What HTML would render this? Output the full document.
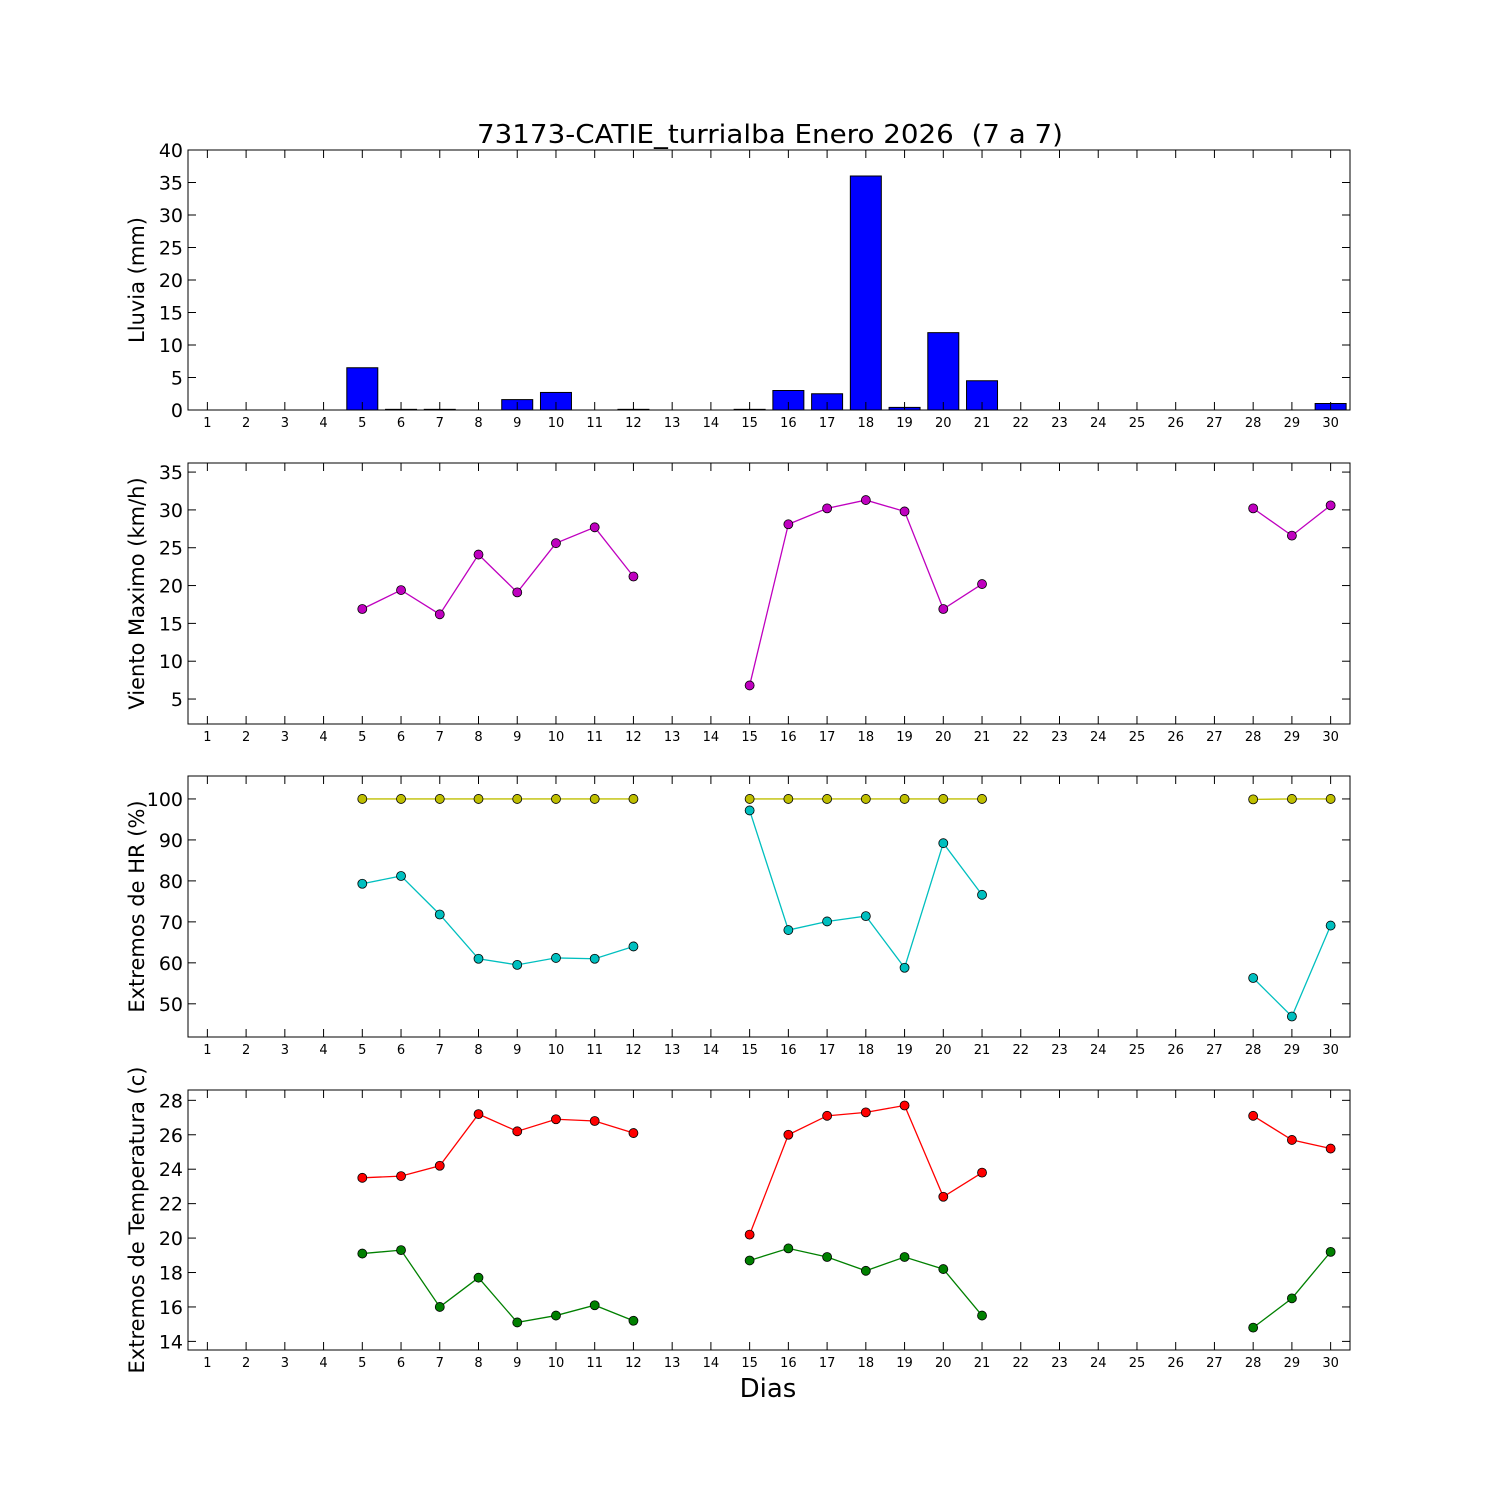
<!DOCTYPE html>
<html><head><meta charset="utf-8"><style>
html,body{margin:0;padding:0;background:#fff}
svg text{font-family:"DejaVu Sans","Liberation Sans",sans-serif;fill:#000}
</style></head><body>
<svg id="chart" width="1500" height="1500" xmlns="http://www.w3.org/2000/svg">
<rect width="1500" height="1500" fill="#fff"/>
<text x="770" y="143" font-size="26" text-anchor="middle" textLength="586" lengthAdjust="spacingAndGlyphs" xml:space="preserve">73173-CATIE_turrialba Enero 2026  (7 a 7)</text>
<text x="768" y="1397" font-size="26" text-anchor="middle">Dias</text>
</svg>
<script>
const days=[];for(let d=1;d<=30;d++)days.push(d);
const rain=[0,0,0,0,6.5,0.1,0.1,0,1.6,2.7,0,0.1,0,0,0.1,3.0,2.5,36,0.4,11.9,4.5,0,0,0,0,0,0,0,0,1.0];
const N=null;
const wind=[N,N,N,N,16.9,19.4,16.2,24.1,19.1,25.6,27.7,21.2,N,N,6.8,28.1,30.2,31.3,29.8,16.9,20.2,N,N,N,N,N,N,30.2,26.6,30.6];
const hrMax=[N,N,N,N,100,100,100,100,100,100,100,100,N,N,100,100,100,100,100,100,100,N,N,N,N,N,N,99.9,100,100];
const hrMin=[N,N,N,N,79.3,81.2,71.8,61.0,59.5,61.2,61.0,64.0,N,N,97.2,68.0,70.1,71.4,58.8,89.2,76.6,N,N,N,N,N,N,56.3,46.9,69.1];
const tMax=[N,N,N,N,23.5,23.6,24.2,27.2,26.2,26.9,26.8,26.1,N,N,20.2,26.0,27.1,27.3,27.7,22.4,23.8,N,N,N,N,N,N,27.1,25.7,25.2];
const tMin=[N,N,N,N,19.1,19.3,16.0,17.7,15.1,15.5,16.1,15.2,N,N,18.7,19.4,18.9,18.1,18.9,18.2,15.5,N,N,N,N,N,N,14.8,16.5,19.2];
const rainTicks=[0,5,10,15,20,25,30,35,40];
const windTicks=[5,10,15,20,25,30,35];
const hrTicks=[50,60,70,80,90,100];
const tTicks=[14,16,18,20,22,24,26,28];

const svg=document.getElementById('chart');const NS='http://www.w3.org/2000/svg';
function el(t,a,p){const e=document.createElementNS(NS,t);for(const k in a)e.setAttribute(k,a[k]);(p||svg).appendChild(e);return e;}
const L=188,R=1350;
const xs=d=>L+(d-0.5)*(R-L)/30;
const panels=[
 {name:'rain',top:150,bot:410,v0:0,v1:40,ticks:rainTicks,label:'Lluvia (mm)'},
 {name:'wind',top:463,bot:724,v0:1.7,v1:36.2,ticks:windTicks,label:'Viento Maximo (km/h)'},
 {name:'hr',top:776,bot:1037,v0:41.9,v1:105.6,ticks:hrTicks,label:'Extremos de HR (%)'},
 {name:'temp',top:1090,bot:1350,v0:13.5,v1:28.6,ticks:tTicks,label:'Extremos de Temperatura (c)'}
];
panels.forEach(p=>{
 p.ys=v=>p.bot-(v-p.v0)/(p.v1-p.v0)*(p.bot-p.top);
 const g=el('g',{});
 
 
 p.g=g;
});
function axes(p){
 const g=p.g;
 p.ticks.forEach(t=>{const y=p.ys(t);
  el('line',{x1:L,x2:L+8,y1:y,y2:y,stroke:'#000'},g);
  el('line',{x1:R,x2:R-8,y1:y,y2:y,stroke:'#000'},g);
  const tx=el('text',{x:L-5,y:y+7,'font-size':19,'text-anchor':'end'},g);tx.textContent=t;
  
  
 });
 days.forEach(d=>{const x=xs(d);
  el('line',{x1:x,x2:x,y1:p.bot,y2:p.bot-8,stroke:'#000'},g);
  el('line',{x1:x,x2:x,y1:p.top,y2:p.top+8,stroke:'#000'},g);
  const tx=el('text',{x:x,y:p.bot+17,'font-size':13,'text-anchor':'middle'},g);tx.textContent=d;
  
  
 });
 el('rect',{x:L,y:p.top,width:R-L,height:p.bot-p.top,fill:'none',stroke:'#000','stroke-width':1},g);
 const cy=(p.top+p.bot)/2;
 const lb=el('text',{x:0,y:0,'font-size':21,'text-anchor':'middle',transform:`translate(144,${cy}) rotate(-90)`},g);lb.textContent=p.label;
 
 
}
function series(p,vals,color,nm){
 let seg=[];const segs=[];
 vals.forEach((v,i)=>{if(v===null){if(seg.length)segs.push(seg);seg=[];}else seg.push([xs(days[i]),p.ys(v)]);});
 if(seg.length)segs.push(seg);
 segs.forEach(s=>{const pl=el('polyline',{points:s.map(q=>q.join(',')).join(' '),fill:'none',stroke:color,'stroke-width':1.3},p.g);
  
  });
 vals.forEach((v,i)=>{if(v===null)return;const c=el('circle',{cx:xs(days[i]),cy:p.ys(v),r:4.5,fill:color,stroke:'#000','stroke-width':0.8},p.g);
  
  });
}
const pr=panels[0];const bw=0.8*(R-L)/30;
rain.forEach((v,i)=>{if(v<=0)return;const y=pr.ys(v);
 const b=el('rect',{x:xs(days[i])-bw/2,y:y,width:bw,height:pr.bot-y,fill:'#0000ff',stroke:'#000','stroke-width':1},pr.g);
 
 });
series(panels[1],wind,'#bf00bf','wind');
series(panels[2],hrMax,'#bfbf00','hr-max');
series(panels[2],hrMin,'#00bfbf','hr-min');
series(panels[3],tMax,'#ff0000','temp-max');
series(panels[3],tMin,'#008000','temp-min');
panels.forEach(axes);
</script>
</body></html>
